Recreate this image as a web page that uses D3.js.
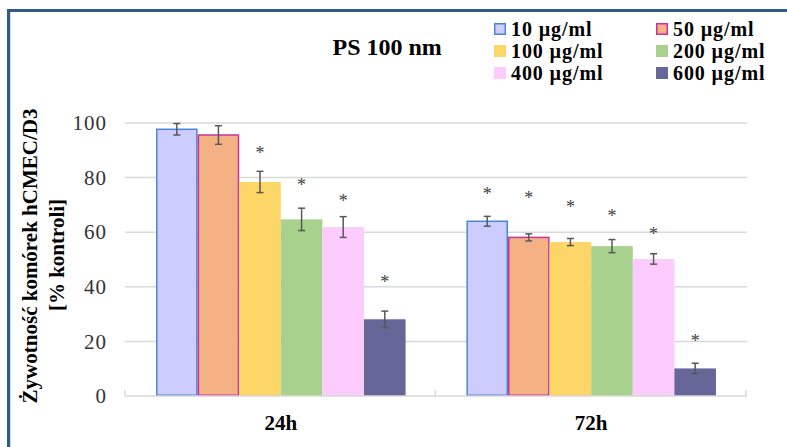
<!DOCTYPE html>
<html>
<head>
<meta charset="utf-8">
<script src="https://cdn.jsdelivr.net/npm/d3@7"></script>
<style>
  html, body { margin: 0; padding: 0; background: #fff; }
  svg { display: block; }
</style>
</head>
<body>
<svg id="chart" width="787" height="447"></svg>
<script>
// Cell viability after exposure to PS 100 nm particles
const timePoints = ["24h", "72h"];
const doses = ["10 µg/ml", "50 µg/ml", "100 µg/ml", "200 µg/ml", "400 µg/ml", "600 µg/ml"];
const viability24h = [97.7, 95.6, 78.4, 64.7, 61.9, 28.1];
const viability72h = [64.0, 58.1, 56.4, 54.9, 50.2, 10.1];
const error24h = [2.1, 3.4, 3.9, 4.1, 3.8, 3.0];
const error72h = [1.8, 1.3, 1.3, 2.4, 1.9, 1.9];
// height (in % of control) of the significance asterisk; null = not significant
const sigMark24h = [null, null, 90.1, 78.5, 72.6, 42.9];
const sigMark72h = [75.1, 73.5, 70.2, 67.0, 60.5, 21.4];
const yTicks = [0, 20, 40, 60, 80, 100];
const fills = ["#ccccff", "#f4b183", "#fdd668", "#a9d18e", "#fdcbfd", "#666699"];
const strokes = ["#4a86d9", "#c8339c", null, null, null, null];

const FONT = "'Liberation Serif', 'Times New Roman', serif";

const values = { "24h": viability24h, "72h": viability72h };
const errors = { "24h": error24h, "72h": error72h };
const marks = { "24h": sigMark24h, "72h": sigMark72h };

const svg = d3.select("#chart");

// outer frame (top and left edges)
svg.append("line").attr("x1", 8.5).attr("x2", 787).attr("y1", 10.5).attr("y2", 10.5)
  .attr("stroke", "#2e5c8a").attr("stroke-width", 3);
svg.append("line").attr("x1", 8.5).attr("x2", 8.5).attr("y1", 9).attr("y2", 447)
  .attr("stroke", "#2e5c8a").attr("stroke-width", 3);
svg.append("line").attr("x1", 10.5).attr("x2", 10.5).attr("y1", 12).attr("y2", 447)
  .attr("stroke", "#d8d8d8").attr("stroke-width", 1);

const x0 = d3.scaleBand().domain(timePoints).range([125, 747])
  .paddingInner(0.196).paddingOuter(0.1);
const x1 = d3.scaleBand().domain(doses).range([0, x0.bandwidth()]);
const y = d3.scaleLinear().domain([0, 100]).range([396, 123]);

// gridlines
svg.append("g").selectAll("line").data(yTicks.filter(d => d > 0)).join("line")
  .attr("x1", 125).attr("x2", 747)
  .attr("y1", d => y(d)).attr("y2", d => y(d))
  .attr("stroke", "#d9d9d9").attr("stroke-width", 1.5);

// y tick labels
const yAxis = d3.axisLeft(y).tickValues(yTicks).tickSize(0).tickPadding(0);
const gy = svg.append("g").attr("transform", "translate(107,0)").call(yAxis);
gy.select(".domain").remove();
gy.attr("font-size", null).attr("font-family", null);
gy.selectAll("text")
  .style("font-family", FONT).style("font-size", "21px").style("letter-spacing", "1px")
  .attr("fill", "#333");

// bars
const groups = svg.append("g").selectAll("g").data(timePoints).join("g")
  .attr("transform", d => `translate(${x0(d)},0)`);

groups.selectAll("rect").data(t => doses.map((s, i) => ({ s, i, v: values[t][i] }))).join("rect")
  .attr("x", d => x1(d.s) + (strokes[d.i] ? 0.75 : 0))
  .attr("width", d => x1.bandwidth() - (strokes[d.i] ? 1.5 : 0))
  .attr("y", d => y(d.v))
  .attr("height", d => y(0) - y(d.v) - (strokes[d.i] ? 0.75 : 0))
  .attr("fill", d => fills[d.i])
  .attr("stroke", d => strokes[d.i] || "none")
  .attr("stroke-width", 1.5);

// error bars
const eb = groups.selectAll("g.err").data(t => doses.map((s, i) => ({ s, i, v: values[t][i], e: errors[t][i] })))
  .join("g").attr("class", "err")
  .attr("transform", d => `translate(${x1(d.s) + x1.bandwidth() / 2},0)`)
  .attr("stroke", "#595959").attr("stroke-width", 1.5);
eb.append("line").attr("y1", d => y(d.v + d.e)).attr("y2", d => y(d.v - d.e));
eb.append("line").attr("x1", -3.5).attr("x2", 3.5).attr("y1", d => y(d.v + d.e)).attr("y2", d => y(d.v + d.e));
eb.append("line").attr("x1", -3.5).attr("x2", 3.5).attr("y1", d => y(d.v - d.e)).attr("y2", d => y(d.v - d.e));

// significance asterisks
groups.selectAll("text.sig").data(t => doses.map((s, i) => ({ s, m: marks[t][i] })).filter(d => d.m !== null))
  .join("text").attr("class", "sig")
  .attr("x", d => x1(d.s) + x1.bandwidth() / 2)
  .attr("y", d => y(d.m) + 9)
  .attr("text-anchor", "middle")
  .attr("fill", "#404040")
  .style("font-family", FONT).style("font-size", "18px")
  .text("*");

// category axis line with inward tick marks between categories
svg.append("line").attr("x1", 125).attr("x2", 747).attr("y1", y(0)).attr("y2", y(0))
  .attr("stroke", "#d9d9d9").attr("stroke-width", 1.5);
const bounds = d3.range(timePoints.length + 1).map(i => x0.range()[0] + i * x0.step());
svg.append("g").selectAll("line").data(bounds).join("line")
  .attr("x1", d => d).attr("x2", d => d)
  .attr("y1", y(0)).attr("y2", y(0) - 6)
  .attr("stroke", "#d9d9d9").attr("stroke-width", 1.5);

// category labels
svg.append("g").selectAll("text").data(timePoints).join("text")
  .attr("x", d => x0(d) + x0.bandwidth() / 2)
  .attr("y", 430)
  .attr("text-anchor", "middle")
  .attr("fill", "#000")
  .style("font-family", FONT).style("font-size", "21px").style("font-weight", "bold")
  .text(d => d);

// y axis title
const yTitleLines = ["Żywotność komórek hCMEC/D3", "[% kontroli]"];
svg.append("g").selectAll("text").data(yTitleLines).join("text")
  .attr("transform", (d, i) => `translate(${i === 0 ? 37 : 64},${i === 0 ? 256 : 255}) rotate(-90)`)
  .attr("text-anchor", "middle")
  .style("font-family", FONT).style("font-size", "21px").style("font-weight", "bold")
  .text(d => d);

// chart title
svg.append("text").attr("x", 332.5).attr("y", 55)
  .style("font-family", FONT).style("font-size", "24px").style("font-weight", "bold")
  .text("PS 100 nm");

// legend (two columns, three rows)
const leg = svg.append("g").selectAll("g").data(doses).join("g")
  .attr("transform", (d, i) => `translate(${i % 2 === 0 ? 494 : 656},${36 + Math.floor(i / 2) * 22})`);
leg.append("rect")
  .attr("x", (d, i) => strokes[i] ? 0.75 : 0).attr("y", (d, i) => -13 + (strokes[i] ? 0.75 : 0))
  .attr("width", (d, i) => strokes[i] ? 10.5 : 12).attr("height", (d, i) => strokes[i] ? 10.5 : 12)
  .attr("fill", (d, i) => fills[i])
  .attr("stroke", (d, i) => strokes[i] || "none").attr("stroke-width", 1.5);
leg.append("text").attr("x", 17).attr("y", 0)
  .style("font-family", FONT).style("font-size", "20px").style("font-weight", "bold")
  .style("letter-spacing", "0.9px")
  .text(d => d);
</script>
</body>
</html>
